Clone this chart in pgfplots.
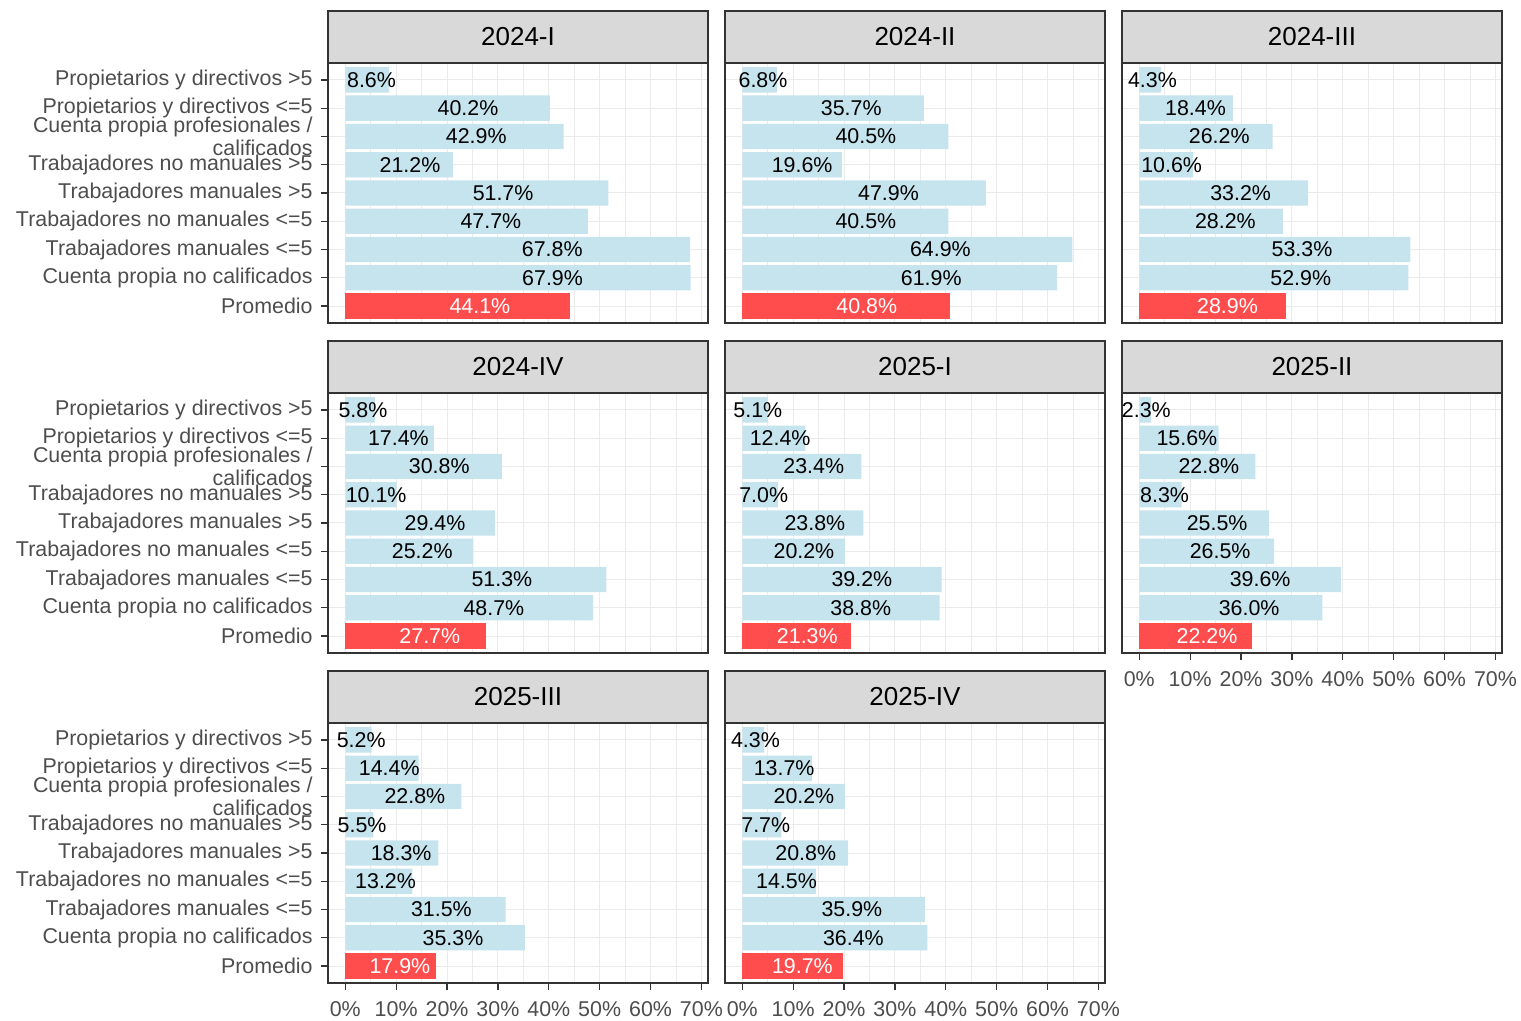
\documentclass[border=0pt]{standalone}
\usepackage{fontspec}
\setmainfont{Liberation Sans}
\usepackage{pgfplots}
\usepackage{pgfplotstable}
\pgfplotsset{compat=1.18}

\definecolor{gTwenty}{HTML}{333333}
\definecolor{gThirty}{HTML}{4D4D4D}
\definecolor{gStrip}{HTML}{D9D9D9}
\definecolor{gGrid}{HTML}{EBEBEB}
\definecolor{barBlue}{RGB}{198,228,238}
\definecolor{barRed}{RGB}{255,77,77}

% share of each group, one column per quarter (a = 2024-I ... h = 2025-IV)
\pgfplotstableread{
y a    b    c    d    e    f    g    h
1 8.6  6.8  4.3  5.8  5.1  2.3  5.2  4.3
2 40.2 35.7 18.4 17.4 12.4 15.6 14.4 13.7
3 42.9 40.5 26.2 30.8 23.4 22.8 22.8 20.2
4 21.2 19.6 10.6 10.1 7.0  8.3  5.5  7.7
5 51.7 47.9 33.2 29.4 23.8 25.5 18.3 20.8
6 47.7 40.5 28.2 25.2 20.2 26.5 13.2 14.5
7 67.8 64.9 53.3 51.3 39.2 39.6 31.5 35.9
8 67.9 61.9 52.9 48.7 38.8 36.0 35.3 36.4
9 44.1 40.8 28.9 27.7 21.3 22.2 17.9 19.7
}\data

\newcommand{\axfont}{\fontsize{10.7}{11.5}\selectfont}

\tikzset{strip/.style={draw=gTwenty, fill=gStrip, line width=0.8pt,
  minimum width=190pt, minimum height=26pt, inner sep=0pt, outer sep=0pt,
  font=\fontsize{13}{13}\selectfont, text=black, anchor=south}}

\pgfplotsset{
  panel/.style={
    scale only axis, width=190pt, height=130pt,
    anchor=north west, clip=false,
    xmin=-3.395, xmax=71.295,
    ymin=0.4, ymax=9.6, y dir=reverse,
    xtick={0,10,...,70},
    minor xtick={5,15,...,65},
    ytick={1,...,9},
    xtick pos=bottom, ytick pos=left,
    xmajorgrids, xminorgrids, ymajorgrids,
    major grid style={gGrid, line width=0.5pt},
    minor grid style={gGrid, line width=0.3pt},
    axis line style={gTwenty, line width=0.8pt},
    tick align=outside, major tick length=3.5pt, minor tick length=0pt,
    tick style={gTwenty, line width=0.6pt},
    tick label style={font=\axfont, text=gThirty, inner sep=1.5pt},
    xticklabel style={yshift=-4pt},
    yticklabel style={xshift=-2.5pt},
    /pgf/number format/assume math mode=true,
  },
  ylab/.style={
    yticklabel style={align=right},
    yticklabels={
      {Propietarios y directivos >5},
      {Propietarios y directivos <=5},
      {Cuenta propia profesionales /\\calificados},
      {Trabajadores no manuales >5},
      {Trabajadores manuales >5},
      {Trabajadores no manuales <=5},
      {Trabajadores manuales <=5},
      {Cuenta propia no calificados},
      {Promedio}},
  },
  noylab/.style={yticklabels={}, ytick style={draw=none}},
  xlab/.style={xticklabels={0\%,10\%,20\%,30\%,40\%,50\%,60\%,70\%}},
  noxlab/.style={xticklabels={}, xtick style={draw=none}},
  lbl/.style={draw=none, mark=*, mark size=0pt, mark options={draw=none, fill=none},
    nodes near coords={\pgfmathprintnumber[fixed, fixed zerofill, precision=1]{\pgfplotspointmeta}\%},
    point meta=explicit,
    every node near coord/.style={anchor=center, font=\axfont, inner sep=0pt}},
}

% #1 x, #2 y (top of plot area), #3 strip title, #4 column, #5 y style, #6 x style
\newcommand{\panel}[6]{%
\begin{axis}[panel, at={(#1,#2)}, #5, #6]
\addplot[xbar, bar width=0.9, bar shift=0pt, fill=barBlue, draw=none,
  skip coords between index={8}{9}] table[x=#4, y=y] {\data};
\addplot[xbar, bar width=0.9, bar shift=0pt, fill=barRed, draw=none,
  skip coords between index={0}{8}] table[x=#4, y=y] {\data};
\addplot[lbl, every node near coord/.append style={text=black},
  skip coords between index={8}{9}] table[x expr=0.6*\thisrow{#4}, y=y, meta=#4] {\data};
\addplot[lbl, every node near coord/.append style={text=white},
  skip coords between index={0}{8}] table[x expr=0.6*\thisrow{#4}, y=y, meta=#4] {\data};
\node[strip] at (rel axis cs:0.5,1) {#3};
\end{axis}}

\begin{document}
\begin{tikzpicture}
\useasboundingbox (0,0) rectangle (760.5pt,-510.5pt);
\panel{164pt}{-31.5pt}{2024-I}{a}{ylab}{noxlab}
\panel{362.5pt}{-31.5pt}{2024-II}{b}{noylab}{noxlab}
\panel{561pt}{-31.5pt}{2024-III}{c}{noylab}{noxlab}
\panel{164pt}{-196.5pt}{2024-IV}{d}{ylab}{noxlab}
\panel{362.5pt}{-196.5pt}{2025-I}{e}{noylab}{noxlab}
\panel{561pt}{-196.5pt}{2025-II}{f}{noylab}{xlab}
\panel{164pt}{-361.5pt}{2025-III}{g}{ylab}{xlab}
\panel{362.5pt}{-361.5pt}{2025-IV}{h}{noylab}{xlab}
\end{tikzpicture}
\end{document}
